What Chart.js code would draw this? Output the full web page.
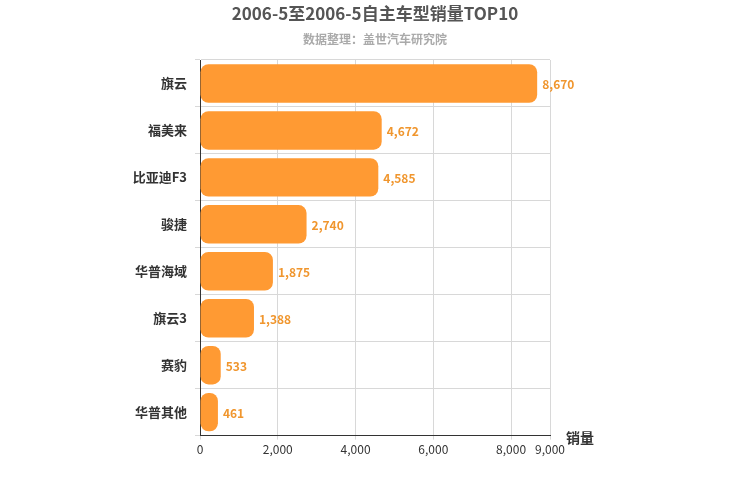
<!DOCTYPE html>
<html><head><meta charset="utf-8">
<script src="https://cdn.jsdelivr.net/npm/chart.js@4/dist/chart.umd.min.js"></script>
<style>html,body{margin:0;padding:0;background:#fff}#w{width:750px;height:500px}</style>
</head><body><div id="w"><canvas id="c"></canvas></div>
<script>
const categories = ["旗云","福美来","比亚迪F3","骏捷","华普海域","旗云3","赛豹","华普其他"];
const sales = [8670,4672,4585,2740,1875,1388,533,461];
const xTicks = [0,2000,4000,6000,8000,9000];
const FONT = "'Noto Sans CJK SC', 'Liberation Sans', sans-serif";

const extras = {
  id:'extras',
  afterDraw(chart){
    const {ctx, chartArea:a, scales:{x}} = chart;
    ctx.save();
    ctx.textAlign='center'; ctx.textBaseline='middle';
    ctx.fillStyle='#555'; ctx.font="bold 17px "+FONT;
    ctx.fillText('2006-5至2006-5自主车型销量TOP10', 375, 14);
    ctx.fillStyle='#aaa'; ctx.font="bold 12px "+FONT;
    ctx.fillText('数据整理：盖世汽车研究院', 375, 39);
    ctx.fillStyle='#333'; ctx.font="bold 14px "+FONT;
    ctx.fillText('销量', 580, 438);
    const meta = chart.getDatasetMeta(0);
    ctx.fillStyle='#f0962e'; ctx.font="bold 12px "+FONT; ctx.textAlign='left';
    meta.data.forEach((b,i)=>{
      ctx.fillText(sales[i].toLocaleString('en-US'), b.x+5, b.y+1);
    });
    ctx.restore();
  }
};

new Chart(document.getElementById('c'), {
  type:'bar',
  data:{labels:categories, datasets:[{data:sales, backgroundColor:'#ff9a33', borderRadius:8, borderSkipped:false, barPercentage:0.82, categoryPercentage:1}]},
  options:{
    indexAxis:'y', responsive:true, maintainAspectRatio:false, animation:false,
    layout:{padding:{top:60, right:200, bottom:40, left:0}},
    plugins:{legend:{display:false}, tooltip:{enabled:false}},
    scales:{
      x:{min:0, max:9000,
        afterBuildTicks(s){ s.ticks = xTicks.map(v=>({value:v})); },
        ticks:{color:'#333', font:{size:12, family:FONT}, maxRotation:0, autoSkip:false,
          callback:(v)=>Number(v).toLocaleString('en-US')},
        grid:{color:'#d8d8d8', drawTicks:true, tickLength:4},
        border:{color:'#333'}},
      y:{
        afterFit(s){ s.width = 200; },
        ticks:{color:'#333', font:{size:13, weight:'bold', family:FONT}, padding:8},
        grid:{color:'#d8d8d8', offset:true, tickLength:5},
        border:{color:'#333'}}
    }
  },
  plugins:[extras]
});
</script></body></html>
